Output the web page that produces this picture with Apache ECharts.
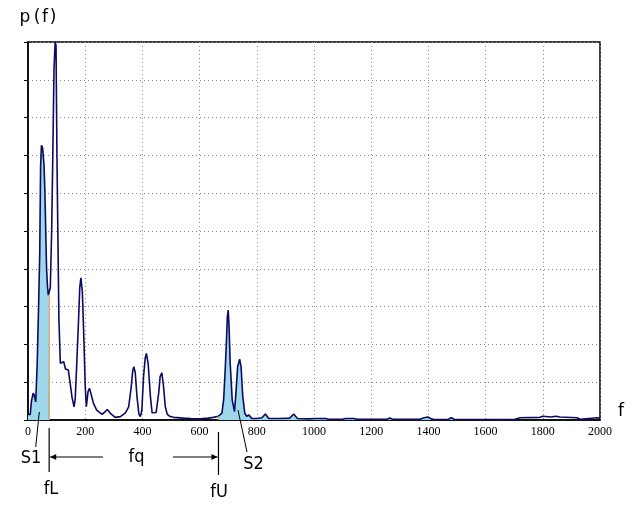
<!DOCTYPE html>
<html>
<head>
<meta charset="utf-8">
<script src="https://cdn.jsdelivr.net/npm/echarts@6/dist/echarts.min.js"></script>
<style>
html,body{margin:0;padding:0;background:#fff;}
#main{width:639px;height:515px;}
</style>
</head>
<body>
<div id="main"></div>
<script>
// ---- data ----
const freq = [0,8,12,18,22,27,32,37,41,44,47,51,56,59,62,65,68,71,74,78,83,87,91,95,98,101,104,108,113,118,125,131,136,141,146,154,161,165,170,176,181,185,190,196,200,204,210,215,220,229,240,259,270,277,284,290,305,323,340,352,361,366,370,375,381,388,393,398,404,410,414,420,428,434,440,448,457,462,468,474,480,487,495,509,544,570,602,630,648,666,678,684,690,694,697,700,703,707,714,722,727,733,740,745,751,758,765,773,782,800,818,830,842,880,915,929,942,980,1005,1040,1050,1100,1110,1140,1150,1255,1265,1275,1370,1385,1398,1410,1420,1470,1480,1490,1700,1720,1790,1800,1830,1845,1860,1920,1930,1960,1990,2000];
const power = [0.15,0.15,0.5,0.71,0.65,0.48,1.45,3.0,4.4,6.7,7.27,7.2,6.75,6.05,5.0,4.0,3.55,3.3,3.3,3.5,5.1,7.15,9.3,10.0,9.9,7.15,5.2,2.7,1.5,1.45,1.54,1.35,1.32,1.32,1.05,0.6,0.35,0.55,1.4,2.5,3.5,3.76,3.39,2.0,0.9,0.35,0.75,0.84,0.8,0.44,0.26,0.15,0.22,0.28,0.22,0.16,0.07,0.09,0.18,0.35,0.88,1.3,1.41,1.25,0.62,0.15,0.09,0.25,1.15,1.65,1.76,1.5,0.62,0.19,0.16,0.2,0.71,1.15,1.25,0.88,0.35,0.15,0.1,0.07,0.05,0.04,0.03,0.05,0.07,0.1,0.18,0.53,1.41,2.12,2.73,2.91,2.47,1.5,0.53,0.22,0.71,1.41,1.61,1.41,0.62,0.18,0.1,0.13,0.04,0.04,0.06,0.16,0.04,0.04,0.05,0.16,0.04,0.03,0.04,0.04,0.02,0.02,0.04,0.04,0.02,0.02,0.05,0.02,0.02,0.06,0.08,0.03,0.01,0.02,0.06,0.02,0.01,0.06,0.07,0.1,0.08,0.1,0.08,0.06,0.02,0.04,0.06,0.05];
const fL = 74;      // lower band limit
const fU = 666;     // upper band limit
const fillEnd = 1700;
const xMin = 0, xMax = 2000, xStep = 200;
const yMin = 0, yMax = 10, yStep = 1;
const labels = {y:'p\u2009(\u200af\u200a)', x:'f', s1:'S1', s2:'S2', fq:'fq', fL:'fL', fU:'fU'};

const allPts = freq.map((f,i)=>[f,power[i]]);
const s1Pts = allPts.filter(p=>p[0]<=fL);
const s2Pts = allPts.filter(p=>p[0]>=fU && p[0]<=fillEnd);

const FILL = '#9fd8ea';
const LINE = '#0b0b62';

const chart = echarts.init(document.getElementById('main'), null, {renderer:'canvas'});
chart.setOption({
  animation:false,
  backgroundColor:'#fff',
  grid:{left:28,right:39,top:42,bottom:95,show:true,borderColor:'#000',borderWidth:1.5,backgroundColor:'transparent'},
  xAxis:{type:'value',min:xMin,max:xMax,interval:xStep,
    axisLine:{show:true,lineStyle:{color:'#000',width:1.5}},
    axisTick:{show:false},
    axisLabel:{color:'#000',fontFamily:'Liberation Serif',fontSize:12,margin:6,formatter:v=>String(v)},
    splitLine:{show:true,lineStyle:{color:'#8a8a8a',type:[1,3],width:1}}},
  yAxis:{type:'value',min:yMin,max:yMax,interval:yStep,
    axisLine:{show:true,lineStyle:{color:'#000',width:1.5}},
    axisTick:{show:true,length:4,lineStyle:{color:'#000',width:1}},
    axisLabel:{show:false},
    splitLine:{show:true,lineStyle:{color:'#8a8a8a',type:[1,3],width:1}}},
  series:[
    {type:'line',data:s1Pts,symbol:'none',lineStyle:{width:0},areaStyle:{color:FILL,opacity:1},z:1},
    {type:'line',data:s2Pts,symbol:'none',lineStyle:{width:0},areaStyle:{color:FILL,opacity:1},z:1},
    {type:'line',data:allPts,symbol:'none',lineStyle:{color:LINE,width:1.6},z:3}
  ]
});

const px = v => chart.convertToPixel({gridIndex:0}, v);
const xL = px([fL,0])[0], xU = px([fU,0])[0];
const y0 = px([0,0])[1];
const idxL = freq.indexOf(fL), idxU = freq.indexOf(fU);
const yL = px([fL,power[idxL]])[1], yU = px([fU,power[idxU]])[1];
const TXT = {fontFamily:'DejaVu Sans Condensed, DejaVu Sans',fontSize:18,fill:'#000'};
const txt = (t,x,y,extra)=>({type:'text',x:x,y:y,style:Object.assign({text:t,textAlign:'center',textVerticalAlign:'middle'},TXT,extra||{}),z:10});
const seg = (x1,y1,x2,y2,color,w)=>({type:'line',shape:{x1,y1,x2,y2},style:{stroke:color||'#000',lineWidth:w||1},z:10});
const arrowY = 457;
chart.setOption({graphic:[
  seg(xL,y0,xL,yL,'#c9a27a',1.5),
  seg(xU,y0,xU,yU,'#c9a27a',1.5),
  txt(labels.y,38,18,{fontFamily:'DejaVu Sans',fontSize:17}),
  txt(labels.x,621,412,{fontFamily:'DejaVu Sans',fontSize:17}),
  seg(xL,428,xL,472,'#000',1.2),
  seg(xU,432,xU,475,'#000',1.2),
  seg(xL+1,arrowY,103,arrowY,'#000',1.2),
  {type:'polygon',shape:{points:[[xL+1,arrowY],[xL+7,arrowY-3],[xL+7,arrowY+3]]},style:{fill:'#000'},z:10},
  seg(173,arrowY,xU-1,arrowY,'#000',1.2),
  {type:'polygon',shape:{points:[[xU-1,arrowY],[xU-7,arrowY-3],[xU-7,arrowY+3]]},style:{fill:'#000'},z:10},
  txt(labels.fq,136.5,457),
  txt(labels.s1,31,458),
  seg(35.7,447,39.3,412,'#000',1),
  txt(labels.fL,51,489),
  txt(labels.fU,219,492.5),
  txt(labels.s2,253.5,464),
  seg(238,410,247,452,'#000',1)
]});
</script>
</body>
</html>
